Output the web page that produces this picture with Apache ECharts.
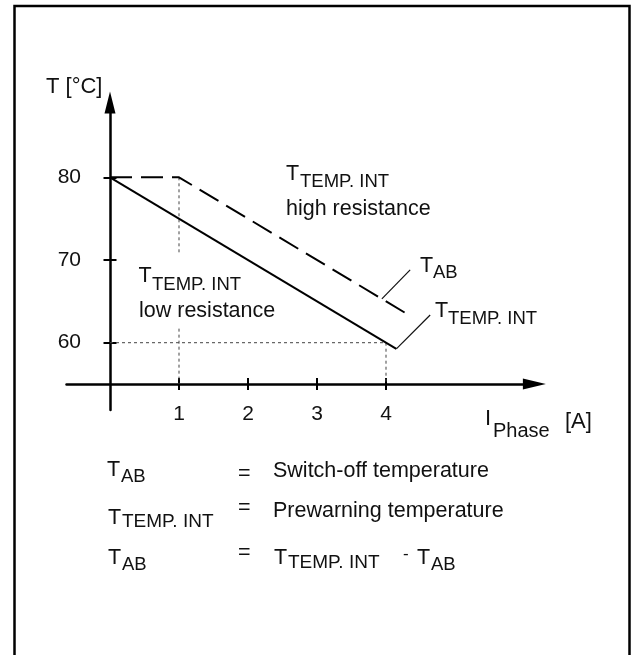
<!DOCTYPE html>
<html><head><meta charset="utf-8">
<script src="https://cdn.jsdelivr.net/npm/echarts@6/dist/echarts.min.js"></script>
<style>html,body{margin:0;padding:0;background:#fff}#c{width:633px;height:655px}</style>
</head><body><div id="c"></div>
<script>
// ---- data ----
const xTicks = [1, 2, 3, 4];
const yTicks = [60, 70, 80];
const lowResistance = [[0, 80], [4.15, 59.25]];            // T TEMP.INT low resistance (solid)
const highResistance = [[0, 80], [1, 80], [4.35, 63.25]];  // T TEMP.INT high resistance (dashed)
const guide60 = [[0, 60], [4, 60]];
const guideX4 = [[4, 60], [4, 55]];
const guideX1a = [[1, 80], [1, 70.6]];
const guideX1b = [[1, 61.7], [1, 55]];
const leaderAB = [[3.94, 65.3], [4.35, 68.8]];
const leaderInt = [[4.15, 59.25], [4.64, 63.35]];
const xRange = [-0.63, 6.15];
const yRange = [51.85, 89.05];
const xAxisAtT = 55;

const FONT = '"Liberation Sans", Arial, Helvetica, sans-serif';
const INK = '#111';
function txt(x, base, s, fs) {
  return {type: 'text', x: x, y: base - 0.35 * fs, silent: true, z: 10,
    style: {text: s, font: fs + 'px ' + FONT, fill: INK, textAlign: 'left', textVerticalAlign: 'middle'}};
}
function mid(x, m, s, fs) {
  return {type: 'text', x: x, y: m, silent: true, z: 10,
    style: {text: s, font: fs + 'px ' + FONT, fill: INK, textAlign: 'left', textVerticalAlign: 'middle'}};
}
const M = 21.5, S = 18.5;
const texts = [
  txt(46, 95, 'T [°C]', 22),
  txt(485, 427, 'I', 22), txt(493, 438, 'Phase', 20), txt(565, 430, '[A]', 22),
  txt(286, 182, 'T', M), txt(300, 188, 'TEMP. INT', S), txt(286, 217, 'high resistance', M),
  txt(138.5, 283.5, 'T', M), txt(152, 291.5, 'TEMP. INT', S), txt(139, 318.5, 'low resistance', M),
  txt(420, 273.5, 'T', M), txt(433, 279.5, 'AB', S),
  txt(435, 318.5, 'T', M), txt(448, 325, 'TEMP. INT', S),
  txt(107, 478, 'T', M), txt(121, 483.5, 'AB', S), mid(238, 474, '=', M), txt(273, 478.5, 'Switch-off temperature', M),
  txt(108, 525.5, 'T', M), txt(122, 528, 'TEMP. INT', 19), mid(238, 508, '=', M), txt(273, 519, 'Prewarning temperature', M),
  txt(108, 566, 'T', M), txt(122, 571, 'AB', S), mid(238, 553, '=', M),
  txt(274, 566, 'T', M), txt(288, 569, 'TEMP. INT', 19), mid(403, 554, '-', 17),
  txt(417, 566, 'T', M), txt(431, 571, 'AB', S)
];

const axLine = {color: '#000', width: 2.5};
const tickStyle = {color: '#000', width: 2};
function lineSeries(data, style) {
  return {type: 'line', data: data, xAxisIndex: 0, yAxisIndex: 0, symbol: 'none', showSymbol: false,
    silent: true, animation: false, lineStyle: style, z: 3};
}
const guideStyle = {color: '#444', width: 1, type: [3, 3]};
const leaderStyle = {color: INK, width: 1.2};

const chart = echarts.init(document.getElementById('c'), null, {renderer: 'canvas'});
chart.setOption({
  backgroundColor: '#fff',
  animation: false,
  grid: {left: 66.53, right: 98.65, top: 102.46, bottom: 244.9, containLabel: false, outerBoundsMode: 'none'},
  xAxis: [
    {type: 'value', position: 'bottom', min: xRange[0], max: xRange[1],
      axisLine: {show: true, onZero: true, onZeroAxisIndex: 1, symbol: ['none', 'triangle'], symbolSize: [11, 23], lineStyle: axLine},
      axisTick: {show: true, customValues: xTicks, length: 6, inside: false, lineStyle: tickStyle},
      axisLabel: {show: true, customValues: xTicks, margin: -6, fontSize: 21, color: INK, fontFamily: FONT},
      splitLine: {show: false}},
    {type: 'value', position: 'bottom', min: xRange[0], max: xRange[1],
      axisLine: {show: false, onZero: true, onZeroAxisIndex: 1},
      axisTick: {show: true, customValues: xTicks, length: 6, inside: true, lineStyle: tickStyle},
      axisLabel: {show: false}, splitLine: {show: false}}
  ],
  yAxis: [
    {type: 'value', position: 'left', min: yRange[0], max: yRange[1],
      axisLine: {show: true, onZero: true, onZeroAxisIndex: 0, symbol: ['none', 'triangle'], symbolSize: [11, 22], lineStyle: axLine},
      axisTick: {show: true, customValues: yTicks, length: 6.5, inside: false, lineStyle: tickStyle},
      axisLabel: {show: true, customValues: yTicks, margin: -14.5, fontSize: 21, color: INK, fontFamily: FONT},
      splitLine: {show: false}},
    {type: 'value', position: 'right', min: yRange[0] - xAxisAtT, max: yRange[1] - xAxisAtT, show: false,
      axisLine: {show: false, onZero: false}, splitLine: {show: false}},
    {type: 'value', position: 'left', min: yRange[0], max: yRange[1],
      axisLine: {show: false, onZero: true, onZeroAxisIndex: 0},
      axisTick: {show: true, customValues: yTicks, length: 6.5, inside: true, lineStyle: tickStyle},
      axisLabel: {show: false}, splitLine: {show: false}}
  ],
  series: [
    lineSeries(guide60, guideStyle),
    lineSeries(guideX4, guideStyle),
    lineSeries(guideX1a, guideStyle),
    lineSeries(guideX1b, guideStyle),
    lineSeries(lowResistance, {color: '#000', width: 2}),
    lineSeries(highResistance, {color: '#000', width: 2, type: [22, 9]}),
    lineSeries(leaderAB, leaderStyle),
    lineSeries(leaderInt, leaderStyle)
  ],
  graphic: [
    {type: 'rect', shape: {x: 14.5, y: 6, width: 615, height: 720}, silent: true, z: 1,
      style: {fill: 'none', stroke: '#000', lineWidth: 2.5}}
  ].concat(texts)
});
</script></body></html>
